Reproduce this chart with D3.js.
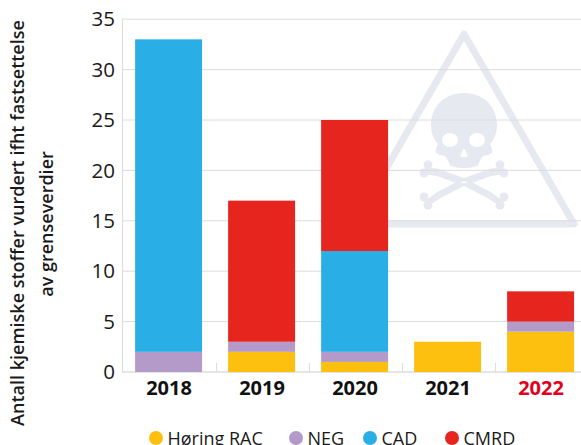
<!DOCTYPE html>
<html><head><meta charset="utf-8">
<script src="https://cdnjs.cloudflare.com/ajax/libs/d3/7.8.5/d3.min.js"></script>
<style>html,body{margin:0;background:#fff;overflow:hidden}svg{display:block}text{font-family:"Open Sans",sans-serif;fill:#1a1a1a}</style>
</head><body><svg id="c" width="581" height="445"></svg>
<script>
const years=["2018","2019","2020","2021","2022"];
const seriesNames=["Høring RAC","NEG","CAD","CMRD"];
const horingRac=[0,2,1,3,4];
const neg=[2,1,1,0,1];
const cad=[31,0,10,0,0];
const cmrd=[0,14,13,0,3];
const yTicks=[0,5,10,15,20,25,30,35];
const colors=["#fdc00f","#b39ac8","#29aee6","#e7251f"];
const yLabelLines=["Antall kjemiske stoffer vurdert ifht fastsettelse","av grenseverdier"];

const svg=d3.select("#c");
const y=d3.scaleLinear().domain([0,35]).range([372,19.2]);
const x=d3.scaleBand().domain(years).range([122.5,587.5]).paddingInner(0.28).paddingOuter(0.14);
const rows=years.map((yr,i)=>({year:yr,"Høring RAC":horingRac[i],NEG:neg[i],CAD:cad[i],CMRD:cmrd[i]}));
const stacked=d3.stack().keys(seriesNames)(rows);

// watermark
const wm=svg.append("g").attr("fill","#e6e9f0");
wm.append("path").attr("d","M464 34 L574 224 L354 224 Z").attr("fill","none").attr("stroke","#e6e9f0").attr("stroke-width",7).attr("stroke-linejoin","round");
wm.append("path").attr("d","M426 168.5 L438 170 L464 179.5 L490 193 L502 202 L502 206 L488 197 L464 184.5 L438 175 L426 173 Z M502 168.5 L490 170 L464 179.5 L438 193 L426 202 L426 206 L440 197 L464 184.5 L490 175 L502 173 Z").attr("stroke","#e6e9f0").attr("stroke-width",2.5).attr("stroke-linejoin","round");
[[428,165],[424,173],[424,197],[428,205],[500,165],[504,173],[504,197],[500,205]].forEach(([a,b])=>{
  wm.append("circle").attr("cx",a).attr("cy",b).attr("r",4.5);
});
wm.append("path").attr("d","M464 93 C444 93 431 107 431 125 C431 133 434 140 438 144 C437 147 435 150 436 152 C437 155 441 155 445 156 C447 158 449 162 450 165 C454 169 474 169 478 165 C479 162 481 158 483 156 C487 155 491 155 492 152 C493 150 491 147 490 144 C494 140 497 133 497 125 C497 107 484 93 464 93 Z");
wm.append("ellipse").attr("cx",450).attr("cy",140).attr("rx",8).attr("ry",7).attr("fill","#fff");
wm.append("ellipse").attr("cx",477).attr("cy",140).attr("rx",8).attr("ry",7).attr("fill","#fff");
wm.append("path").attr("d","M464 150 L466.5 156 L461.5 156 Z").attr("fill","#fff").attr("stroke","#fff").attr("stroke-width",2).attr("stroke-linejoin","round");

// grid
svg.append("g").selectAll("line").data(yTicks.slice(1)).join("line")
 .attr("x1",122.5).attr("x2",581).attr("y1",d=>y(d)).attr("y2",d=>y(d)).attr("stroke","#dcdcdc").attr("stroke-width",1);

// axes
const ax=svg.append("g").attr("transform","translate(122.5,0)")
 .call(d3.axisLeft(y).tickValues(yTicks).tickSize(0).tickPadding(7.5));
ax.select(".domain").attr("stroke","#dcdcdc").attr("d","M0,19.2V372");
ax.selectAll("text").attr("font-size",20.5).attr("font-family",'"Open Sans",sans-serif').attr("fill","#1a1a1a").attr("dy","0.33em");

svg.append("line").attr("x1",122).attr("x2",581).attr("y1",372).attr("y2",372).attr("stroke","#dcdcdc").attr("stroke-width",1.5);
const step=x.step();
svg.append("g").selectAll("line").data(years.slice(1)).join("line")
 .attr("x1",d=>Math.round(x(d)-(step-x.bandwidth())/2)+.5).attr("x2",d=>Math.round(x(d)-(step-x.bandwidth())/2)+.5)
 .attr("y1",363).attr("y2",372).attr("stroke","#dcdcdc");

// bars
svg.append("g").selectAll("g").data(stacked).join("g").attr("fill",(d,i)=>colors[i])
 .selectAll("rect").data(d=>d.map(v=>({v,year:v.data.year}))).join("rect")
 .attr("x",d=>x(d.year)-0.4).attr("width",x.bandwidth())
 .attr("y",d=>y(d.v[1])).attr("height",d=>y(d.v[0])-y(d.v[1]));

// year labels
svg.append("g").selectAll("text").data(years).join("text")
 .attr("x",d=>x(d)+x.bandwidth()/2).attr("y",394.5).attr("text-anchor","middle")
 .attr("font-size",20).attr("font-weight",700)
 .style("fill",d=>d==="2022"?"#e2001a":"#111").text(d=>d);

// y label
const lab=svg.append("g");
lab.append("text").attr("transform","translate(24,223) rotate(-90)").attr("text-anchor","middle")
 .attr("font-size",18).attr("font-weight",600).text(yLabelLines[0]);
lab.append("text").attr("transform","translate(53,224) rotate(-90)").attr("text-anchor","middle")
 .attr("font-size",18).attr("font-weight",600).text(yLabelLines[1]);

// legend
const legendX=[156,296,370,452];
const lg=svg.append("g").selectAll("g").data(seriesNames).join("g")
 .attr("transform",(d,i)=>`translate(${legendX[i]},438)`);
lg.append("circle").attr("r",7).attr("fill",(d,i)=>colors[i]);
lg.append("text").attr("x",11.5).attr("y",6.5).attr("font-size",18).text(d=>d);
</script></body></html>
